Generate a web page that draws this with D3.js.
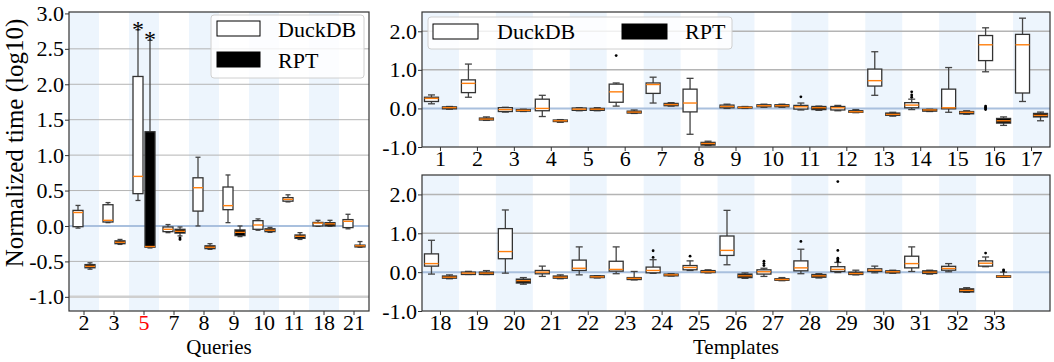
<!DOCTYPE html>
<html><head><meta charset="utf-8">
<script src="https://cdn.jsdelivr.net/npm/d3@7"></script>
<style>
body{margin:0;background:#fff;}
svg text{font-family:"Liberation Serif",Tinos,"Times New Roman",Times,"Nimbus Roman","DejaVu Serif",serif !important;}
</style></head>
<body><svg id="c" width="1054" height="362"></svg>
<script>
// ---------- DATA ----------
const queries = ["2","3","5","7","8","9","10","11","18","21"];
const highlightQuery = "5";
const starredQuery = "5";
// [whiskerLow, q1, median, q3, whiskerHigh]
const queryDuck = [
  [-0.03,-0.01,0.19,0.22,0.29],[0.047,0.056,0.08,0.30,0.33],[0.36,0.456,0.70,2.11,2.77],
  [-0.094,-0.08,-0.047,-0.014,0.02],[0.0,0.21,0.54,0.68,0.97],[0.047,0.23,0.287,0.55,0.72],
  [-0.06,-0.047,0.014,0.075,0.10],[0.34,0.35,0.376,0.40,0.44],[-0.005,0.0,0.04,0.05,0.08],
  [-0.04,-0.023,0.066,0.09,0.165]];
const queryRpt = [
  [-0.61,-0.59,-0.57,-0.545,-0.52],[-0.26,-0.25,-0.23,-0.21,-0.19],[-0.31,-0.30,-0.29,1.33,2.62],
  [-0.14,-0.10,-0.075,-0.047,-0.014],[-0.33,-0.32,-0.30,-0.28,-0.25],[-0.15,-0.136,-0.09,-0.056,0.0],
  [-0.09,-0.08,-0.06,-0.04,-0.02],[-0.19,-0.174,-0.146,-0.127,-0.094],[-0.005,0.0,0.03,0.047,0.08],
  [-0.30,-0.296,-0.28,-0.27,-0.22]];
const queryDuckFliers = [[],[],[],[],[],[],[],[],[],[]];
const queryRptFliers = [[],[],[],[-0.17,-0.19],[],[],[],[],[],[]];

const templatesTop = ["1","2","3","4","5","6","7","8","9","10","11","12","13","14","15","16","17"];
const topDuck = [
  [0.12,0.18,0.26,0.29,0.35],[0.29,0.41,0.65,0.74,1.15],[-0.095,-0.08,-0.03,0.02,0.03],
  [-0.21,-0.06,0.0,0.24,0.34],[-0.06,-0.05,-0.02,0.01,0.02],[0.06,0.16,0.43,0.63,0.66],
  [0.14,0.39,0.62,0.66,0.81],[-0.67,-0.09,0.14,0.5,0.78],[0.0,0.017,0.05,0.086,0.11],
  [0.03,0.043,0.07,0.095,0.11],[-0.04,-0.017,0.043,0.078,0.14],[-0.06,-0.04,0.017,0.05,0.078],
  [0.34,0.58,0.72,1.02,1.47],[-0.03,0.017,0.086,0.15,0.24],[-0.1,-0.01,0.017,0.5,1.06],
  [0.95,1.24,1.65,1.89,2.09],[0.18,0.40,1.65,1.92,2.34]];
const topRpt = [
  [-0.02,-0.01,0.02,0.04,0.05],[-0.31,-0.30,-0.276,-0.25,-0.22],[-0.08,-0.07,-0.05,-0.03,-0.02],
  [-0.36,-0.34,-0.32,-0.30,-0.29],[-0.06,-0.05,-0.02,0.0,0.02],[-0.13,-0.12,-0.095,-0.07,-0.04],
  [0.06,0.07,0.10,0.13,0.15],[-0.96,-0.95,-0.91,-0.88,-0.85],[0.0,0.01,0.026,0.04,0.05],
  [0.03,0.043,0.07,0.095,0.11],[-0.05,-0.03,0.017,0.05,0.06],[-0.11,-0.10,-0.086,-0.06,-0.03],
  [-0.2,-0.18,-0.155,-0.12,-0.1],[-0.08,-0.07,-0.04,-0.026,-0.02],[-0.15,-0.14,-0.10,-0.08,-0.06],
  [-0.44,-0.38,-0.32,-0.26,-0.22],[-0.32,-0.22,-0.18,-0.13,-0.095]];
const topDuckFliers = [[],[],[],[],[],[1.37],[],[],[],[],[0.30],[],[],[0.29,0.35,0.43],[],[0.06,0.03,0.0,-0.03],[]];
const topRptFliers = [[],[],[],[],[],[],[],[],[],[],[],[],[],[],[],[],[]];

const templatesBottom = ["18","19","20","21","22","23","24","25","26","27","28","29","30","31","32","33",""];
const botDuck = [
  [-0.05,0.155,0.22,0.47,0.82],[-0.06,-0.06,-0.026,0.0,0.02],[-0.026,0.345,0.53,1.12,1.60],
  [-0.11,-0.043,0.0,0.043,0.155],[-0.07,0.043,0.10,0.31,0.65],[-0.04,0.026,0.07,0.28,0.65],
  [-0.03,-0.017,0.043,0.13,0.32],[0.043,0.06,0.12,0.17,0.29],[0.19,0.43,0.56,0.93,1.59],
  [-0.11,-0.05,0.01,0.06,0.10],[-0.04,0.034,0.11,0.29,0.59],[-0.01,0.017,0.07,0.14,0.25],
  [-0.017,0.017,0.05,0.086,0.155],[0.017,0.11,0.22,0.41,0.65],[0.01,0.05,0.095,0.15,0.22],
  [0.14,0.155,0.23,0.29,0.39],null];
const botRpt = [
  [-0.17,-0.155,-0.13,-0.10,-0.07],[-0.06,-0.06,-0.026,0.0,0.04],[-0.31,-0.28,-0.22,-0.18,-0.14],
  [-0.17,-0.155,-0.13,-0.10,-0.07],[-0.15,-0.14,-0.12,-0.095,-0.09],[-0.2,-0.19,-0.16,-0.14,0.017],
  [-0.1,-0.095,-0.07,-0.05,-0.04],[-0.02,-0.01,0.01,0.04,0.06],[-0.16,-0.14,-0.095,-0.05,-0.02],
  [-0.22,-0.21,-0.19,-0.17,-0.14],[-0.15,-0.13,-0.095,-0.06,-0.04],[-0.07,-0.06,-0.035,0.0,0.05],
  [-0.03,-0.017,0.01,0.034,0.05],[-0.05,-0.034,0.0,0.034,0.05],[-0.52,-0.51,-0.47,-0.43,-0.40],
  [-0.13,-0.13,-0.11,-0.095,0.0],null];
const botDuckFliers = [[],[],[],[],[],[],[0.38,0.55],[0.41],[],[0.17,0.22,0.28],[0.79],[0.28,0.32,0.36,0.56,2.33],[],[],[],[0.49],[]];
const botRptFliers = [[],[],[],[],[],[],[],[],[],[],[],[],[],[],[],[0.03,0.06],[]];

const leftTicks = [-1.0,-0.5,0.0,0.5,1.0,1.5,2.0,2.5,3.0];
const rightTicks = [-1.0,0.0,1.0,2.0];
const seriesNames = ["DuckDB","RPT"];
const yTitle = "Normalized time (log10)";
const xTitleLeft = "Queries";
const xTitleRight = "Templates";

// ---------- DRAW ----------
const FONT = '"Liberation Serif",Tinos,"Times New Roman",Times,"Nimbus Roman","DejaVu Serif",serif';
const FS = 22;
const svg = d3.select("#c").attr("font-family",FONT);
const BAND = "#edf5fd", FRAME = "#333";

function panel(cfg){
  const x = d3.scaleBand().domain(cfg.cats).range([cfg.x0,cfg.x1]).padding(0);
  const y = d3.scaleLinear().domain(cfg.ydom).range([cfg.y1,cfg.y0]);
  const g = svg.append("g");
  g.selectAll("rect.band").data(cfg.cats.filter((c,i)=>i%2===0)).join("rect")
    .attr("x",d=>x(d)).attr("y",cfg.y0).attr("width",x.bandwidth()).attr("height",cfg.y1-cfg.y0)
    .attr("fill",BAND);
  g.selectAll("line.grid").data(cfg.grid).join("line")
    .attr("x1",cfg.x0).attr("x2",cfg.x1).attr("y1",d=>y(d)).attr("y2",d=>y(d))
    .attr("stroke",d=>d===0?"#a9c0de":(d===-1?"#cfcfcf":"#b4b4b4"))
    .attr("stroke-width",d=>d===0?2:(d===-1?2.5:cfg.gridW));
  const off = cfg.off, bw = cfg.bw;
  [[cfg.duck,cfg.duckF,-off,"#fff"],[cfg.rpt,cfg.rptF,off,"#000"]].forEach(([data,fl,o,fill])=>{
    data.forEach((s,i)=>{
      if(!s) return;
      const cx = x(cfg.cats[i]) + x.bandwidth()/2 + o;
      const bg = g.append("g");
      const wc = "#444";
      bg.append("line").attr("x1",cx).attr("x2",cx).attr("y1",y(s[0])).attr("y2",y(s[1])).attr("stroke",wc).attr("stroke-width",1.3);
      bg.append("line").attr("x1",cx).attr("x2",cx).attr("y1",y(s[3])).attr("y2",y(s[4])).attr("stroke",wc).attr("stroke-width",1.3);
      [s[0],s[4]].forEach(v=>bg.append("line").attr("x1",cx-bw/4).attr("x2",cx+bw/4).attr("y1",y(v)).attr("y2",y(v)).attr("stroke",wc).attr("stroke-width",1.3));
      bg.append("rect").attr("x",cx-bw/2).attr("width",bw).attr("y",y(s[3])).attr("height",Math.max(1,y(s[1])-y(s[3])))
        .attr("fill",fill).attr("stroke","#333").attr("stroke-width",1.3);
      bg.append("line").attr("x1",cx-bw/2).attr("x2",cx+bw/2).attr("y1",y(s[2])).attr("y2",y(s[2])).attr("stroke","#ff7f0e").attr("stroke-width",1.4);
      (fl[i]||[]).forEach(v=>bg.append("circle").attr("cx",cx).attr("cy",y(v)).attr("r",1.4).attr("fill","#000"));
    });
  });
  const ya = d3.axisLeft(y).tickValues(cfg.ticks).tickFormat(d=>d.toFixed(1)).tickSize(4).tickPadding(1);
  const yg = g.append("g").attr("transform",`translate(${cfg.x0},0)`).call(ya);
  yg.attr("font-family",FONT);
  yg.select(".domain").remove();
  yg.selectAll("text").attr("font-size",FS).attr("fill","#000");
  yg.selectAll("line").attr("stroke","#333");
  const xa = d3.axisBottom(x).tickValues(cfg.cats.filter(c=>c!=="")).tickSize(4).tickPadding(0);
  const xg = g.append("g").attr("transform",`translate(0,${cfg.y1})`).call(xa);
  xg.attr("font-family",FONT);
  xg.select(".domain").remove();
  xg.selectAll("text").attr("font-size",FS).attr("dy","0.66em").attr("fill",d=>d===cfg.red?"#ff0000":"#000");
  xg.selectAll("line").attr("stroke","#333");
  g.append("rect").attr("x",cfg.x0).attr("y",cfg.y0).attr("width",cfg.x1-cfg.x0).attr("height",cfg.y1-cfg.y0)
    .attr("fill","none").attr("stroke",FRAME).attr("stroke-width",1.2);
  return {x,y,g};
}

const L = panel({cats:queries,x0:69,x1:369,y0:12,y1:311,ydom:[-1.2,3.02],ticks:leftTicks,grid:[-1,-0.5,0,0.5,1,1.5,2,2.5],gridW:1,
  duck:queryDuck,rpt:queryRpt,duckF:queryDuckFliers,rptF:queryRptFliers,off:6,bw:10,red:highlightQuery});
const T = panel({cats:templatesTop,x0:422,x1:1050,y0:12,y1:147,ydom:[-1,2.5],ticks:rightTicks,grid:[0,1,2],gridW:1.5,
  duck:topDuck,rpt:topRpt,duckF:topDuckFliers,rptF:topRptFliers,off:9,bw:14});
const B = panel({cats:templatesBottom,x0:422,x1:1050,y0:175,y1:311,ydom:[-1,2.5],ticks:rightTicks,grid:[0,1,2],gridW:1.5,
  duck:botDuck,rpt:botRpt,duckF:botDuckFliers,rptF:botRptFliers,off:9,bw:14});

const si = queries.indexOf(starredQuery);
[[queryDuck[si],-6],[queryRpt[si],6]].forEach(([s,o])=>{
  svg.append("text").attr("x",L.x(starredQuery)+L.x.bandwidth()/2+o).attr("y",L.y(s[4])+7)
    .attr("text-anchor","middle").attr("font-size",24).attr("fill","#000").text("*");
});

svg.append("text").attr("transform","translate(23,143) rotate(-90)").attr("text-anchor","middle").attr("font-size",25).text(yTitle);
svg.append("text").attr("x",219).attr("y",354).attr("text-anchor","middle").attr("font-size",21).text(xTitleLeft);
svg.append("text").attr("x",736).attr("y",354).attr("text-anchor","middle").attr("font-size",21).text(xTitleRight);

const lg1 = svg.append("g");
lg1.append("rect").attr("x",211).attr("y",15).attr("width",153).attr("height",63).attr("rx",3)
  .attr("fill","#fff").attr("fill-opacity",0.8).attr("stroke","#d0d0d0");
[["#fff",21],["#000",52]].forEach(([f,yy],i)=>{
  lg1.append("rect").attr("x",217).attr("y",yy).attr("width",43).attr("height",15).attr("fill",f).attr("stroke","#000").attr("stroke-width",1);
  lg1.append("text").attr("x",278).attr("y",yy+16).attr("font-size",FS).text(seriesNames[i]);
});
const lg2 = svg.append("g");
lg2.append("rect").attr("x",428).attr("y",17).attr("width",304).attr("height",32).attr("rx",3)
  .attr("fill","#fff").attr("fill-opacity",0.8).attr("stroke","#d0d0d0");
[["#fff",433,497],["#000",622,685]].forEach(([f,xx,tx],i)=>{
  lg2.append("rect").attr("x",xx).attr("y",24).attr("width",45).attr("height",15).attr("fill",f).attr("stroke","#000").attr("stroke-width",1);
  lg2.append("text").attr("x",tx).attr("y",39).attr("font-size",FS).text(seriesNames[i]);
});
</script></body></html>
